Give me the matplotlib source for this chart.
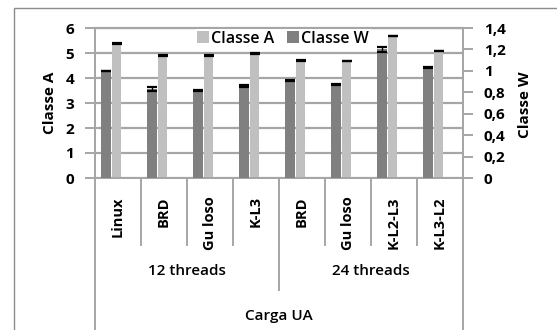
import matplotlib
matplotlib.use("Agg")
import matplotlib.pyplot as plt
from matplotlib.patches import Rectangle, Patch
import numpy as np

plt.rcParams['font.family'] = ['Open Sans', 'DejaVu Sans']

# Data
categories = ["Linux", "BRD", "Guloso", "K-L3", "BRD", "Guloso", "K-L2-L3", "K-L3-L2"]
cat_labels = ["Linux", "BRD", "Gu loso", "K-L3", "BRD", "Gu loso", "K-L2-L3", "K-L3-L2"]
groups = ["12 threads", "24 threads"]
group_sizes = [4, 4]
classe_a = [5.38, 4.91, 4.89, 4.98, 4.72, 4.69, 5.69, 5.09]
classe_a_err = [0.01, 0.02, 0.02, 0.005, 0.02, 0.01, 0.01, 0.01]
classe_w = [1.00, 0.83, 0.815, 0.86, 0.91, 0.875, 1.20, 1.03]
classe_w_err = [0.003, 0.02, 0.005, 0.006, 0.006, 0.006, 0.022, 0.006]
xlabel = "Carga UA"

W, H = 557, 330
fig = plt.figure(figsize=(W / 100, H / 100), dpi=100)

# outer chart frame
fig.patches.append(Rectangle((14 / W, -0.1), 1.2, 1 - 8 / H + 0.1, transform=fig.transFigure,
                             fill=False, edgecolor="#8c8c8c", linewidth=1.0))

left, right, top, bottom = 95, 463, 28, 178
ax = fig.add_axes([left / W, 1 - bottom / H, (right - left) / W, (bottom - top) / H])
ax2 = ax.twinx()

grid_col = "#a6a6a6"
dark = "#808080"
light = "#c0c0c0"

n = len(categories)
x = np.arange(n)
bw = 0.21
x_w = x + 0.245
x_a = x + 0.47

ax.bar(x_a, classe_a, width=bw, color=light, zorder=3)
ax.errorbar(x_a, classe_a, yerr=classe_a_err, fmt="none", ecolor="black",
            elinewidth=1.0, capsize=3.8, capthick=1.6, zorder=4)
ax2.bar(x_w, classe_w, width=bw, color=dark, zorder=3)
ax2.errorbar(x_w, classe_w, yerr=classe_w_err, fmt="none", ecolor="black",
             elinewidth=1.0, capsize=3.8, capthick=1.6, zorder=4)

ax.set_xlim(0, n)
ax.set_ylim(0, 6)
ax2.set_ylim(0, 1.4)
ax.set_yticks(range(0, 7))
w_ticks = np.round(np.arange(0, 1.41, 0.2), 1)
ax2.set_yticks(w_ticks)
ax2.set_yticklabels(["0" if v == 0 else ("1" if v == 1 else f"{v:.1f}".replace(".", ","))
                     for v in w_ticks])

ax.yaxis.grid(True, color=grid_col, linewidth=1.6, zorder=0)
ax.set_axisbelow(True)

for a in (ax, ax2):
    for s in a.spines.values():
        s.set_color(grid_col)
        s.set_linewidth(1.4)
ax.spines["top"].set_linewidth(1.6)

fs = 11
ax.tick_params(axis="y", length=7, width=1.4, color=grid_col, pad=8,
               labelsize=fs, labelcolor="black")
ax2.tick_params(axis="y", length=7, width=1.4, color=grid_col, pad=8,
                labelsize=fs, labelcolor="black")
for lbl in ax.get_yticklabels() + ax2.get_yticklabels():
    lbl.set_fontweight("bold")

ax.set_xticks(x + 0.5)
ax.set_xticklabels(cat_labels, rotation=90, fontsize=10.5, fontweight="bold", va="top")
ax.tick_params(axis="x", length=0, pad=13)

# category dividers below the axis
xt = ax.get_xaxis_transform()
for i in range(1, n):
    ax.plot([i, i], [0, -0.45], transform=xt, color=grid_col, lw=1.4, clip_on=False)
bounds = np.cumsum([0] + group_sizes)
for b in bounds[1:-1]:
    ax.plot([b, b], [0, -0.75], transform=xt, color=grid_col, lw=1.4, clip_on=False)
for b in (bounds[0], bounds[-1]):
    ax.plot([b, b], [0, -1.2], transform=xt, color=grid_col, lw=1.4, clip_on=False)

for g, s0, s1 in zip(groups, bounds[:-1], bounds[1:]):
    ax.text((s0 + s1) / 2, -(271 - bottom) / (bottom - top), g, transform=xt,
            ha="center", va="center", fontsize=11, fontweight="semibold")
ax.text(n / 2, -(316 - bottom) / (bottom - top), xlabel, transform=xt,
        ha="center", va="center", fontsize=11, fontweight="semibold")

fig.text(50 / W, 1 - 103 / H, "Classe A", rotation=90, ha="center", va="center",
         fontsize=fs, fontweight="bold")
fig.text(525 / W, 1 - 105 / H, "Classe W", rotation=90, ha="center", va="center",
         fontsize=fs, fontweight="bold")

handles = [Patch(facecolor=light, edgecolor="none"), Patch(facecolor=dark, edgecolor="none")]
leg = ax2.legend(handles, ["Classe A", "Classe W"], loc="upper left",
                 bbox_to_anchor=(195 / W, 1 - 29 / H), bbox_transform=fig.transFigure,
                 ncol=2, frameon=True, fancybox=False, framealpha=1.0,
                 edgecolor="none", facecolor="white",
                 prop={"size": 11.5, "weight": "semibold"},
                 handlelength=0.75, handleheight=0.75, handletextpad=0.15,
                 columnspacing=0.8, borderpad=0.1, borderaxespad=0)
leg.set_zorder(10)

fig.savefig("out.png", dpi=100)
